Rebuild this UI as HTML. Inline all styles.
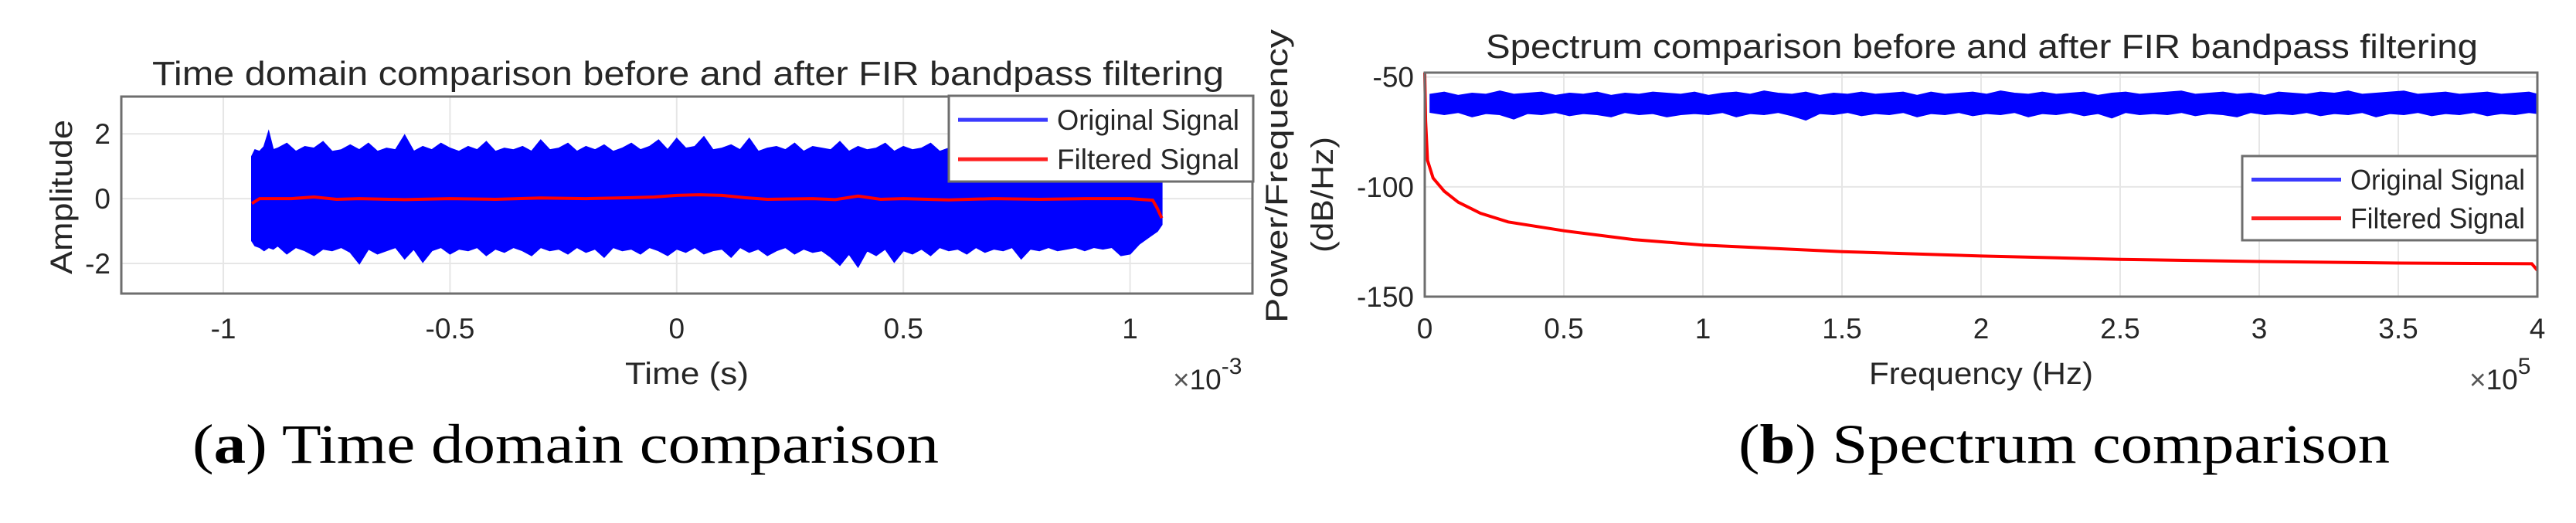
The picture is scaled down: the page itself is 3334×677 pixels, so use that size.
<!DOCTYPE html>
<html><head><meta charset="utf-8">
<style>
html,body{margin:0;padding:0;background:#fff;}
svg{display:block;}
text{font-family:"Liberation Sans",Arial,sans-serif;fill:#262626;}
.cap{font-family:"Liberation Serif",serif;fill:#000;}
</style></head>
<body>
<svg id="fig" width="3334" height="677" viewBox="0 0 3334 677" xmlns="http://www.w3.org/2000/svg">
  <g id="chartA"></g>
  <g id="chartB"></g>
  <text class="cap" x="249" y="599" font-size="72" textLength="966" lengthAdjust="spacingAndGlyphs">(<tspan font-weight="bold">a</tspan>) Time domain comparison</text>
  <text class="cap" x="2250" y="599" font-size="72" textLength="843" lengthAdjust="spacingAndGlyphs">(<tspan font-weight="bold">b</tspan>) Spectrum comparison</text>
</svg>
<script>
// ---------- Chart A data ----------
const timeTicks = [-1, -0.5, 0, 0.5, 1];
const timeTickLabels = ["-1", "-0.5", "0", "0.5", "1"];
const ampTicks = [-2, 0, 2];
const ampTickLabels = ["-2", "0", "2"];
const origTime = [-0.937,-0.93,-0.92,-0.91,-0.9,-0.89,-0.88,-0.86,-0.84,-0.82,-0.8,-0.78,-0.76,-0.74,-0.72,-0.7,-0.68,-0.66,-0.64,-0.62,-0.6,-0.58,-0.56,-0.54,-0.52,-0.5,-0.48,-0.46,-0.44,-0.42,-0.4,-0.38,-0.36,-0.34,-0.32,-0.3,-0.28,-0.26,-0.24,-0.22,-0.2,-0.18,-0.16,-0.14,-0.12,-0.1,-0.08,-0.06,-0.04,-0.02,0,0.02,0.04,0.06,0.08,0.1,0.12,0.14,0.16,0.18,0.2,0.22,0.24,0.26,0.28,0.3,0.32,0.34,0.36,0.38,0.4,0.42,0.44,0.46,0.48,0.5,0.52,0.54,0.56,0.58,0.6,0.62,0.64,0.66,0.68,0.7,0.72,0.74,0.76,0.78,0.8,0.82,0.84,0.86,0.88,0.9,0.92,0.94,0.96,0.98,1.0,1.02,1.04,1.06,1.07];
const origUpper = [1.3,1.5,1.45,1.6,2.05,1.5,1.55,1.7,1.45,1.6,1.55,1.75,1.45,1.5,1.65,1.5,1.7,1.45,1.55,1.5,1.95,1.45,1.6,1.5,1.7,1.55,1.45,1.6,1.5,1.75,1.45,1.55,1.5,1.6,1.45,1.8,1.5,1.55,1.7,1.45,1.6,1.5,1.65,1.45,1.55,1.7,1.5,1.6,1.8,1.5,1.85,1.55,1.6,1.9,1.5,1.55,1.65,1.5,1.85,1.45,1.55,1.6,1.5,1.7,1.45,1.6,1.55,1.5,1.75,1.45,1.6,1.5,1.55,1.7,1.45,1.6,1.5,1.55,1.7,1.45,1.55,1.5,1.6,1.45,1.5,1.6,1.45,1.55,1.5,1.45,1.6,1.5,1.45,1.55,1.4,1.5,1.45,1.4,1.55,1.45,1.4,1.3,1.2,1.0,0.9];
const origLower = [-1.3,-1.45,-1.5,-1.6,-1.5,-1.55,-1.45,-1.7,-1.5,-1.6,-1.75,-1.55,-1.6,-1.5,-1.65,-2.0,-1.55,-1.7,-1.6,-1.5,-1.85,-1.55,-1.95,-1.6,-1.5,-1.7,-1.55,-1.6,-1.5,-1.75,-1.55,-1.65,-1.5,-1.6,-1.75,-1.5,-1.6,-1.55,-1.7,-1.5,-1.65,-1.55,-1.8,-1.5,-1.6,-1.55,-1.7,-1.5,-1.6,-1.75,-1.55,-1.65,-1.5,-1.7,-1.6,-1.55,-1.8,-1.5,-1.65,-1.55,-1.75,-1.6,-1.5,-1.7,-1.55,-1.65,-1.6,-1.8,-2.05,-1.7,-2.1,-1.6,-1.75,-1.55,-1.95,-1.6,-1.7,-1.55,-1.75,-1.5,-1.6,-1.55,-1.7,-1.5,-1.65,-1.55,-1.6,-1.5,-1.85,-1.55,-1.6,-1.5,-1.6,-1.55,-1.5,-1.6,-1.5,-1.55,-1.5,-1.75,-1.7,-1.4,-1.2,-1.0,-0.8];
const filtTime = [-0.937,-0.92,-0.85,-0.8,-0.75,-0.7,-0.6,-0.5,-0.4,-0.3,-0.2,-0.1,-0.05,0,0.05,0.1,0.15,0.2,0.3,0.35,0.4,0.45,0.5,0.6,0.7,0.8,0.9,1.0,1.05,1.06,1.07];
const filtValue = [-0.15,0.0,0.0,0.05,-0.02,0.0,-0.03,0.0,-0.02,0.02,0.0,0.03,0.05,0.1,0.12,0.1,0.03,-0.02,0.0,-0.03,0.08,-0.02,0.0,-0.04,0.0,-0.02,0.0,0.0,-0.05,-0.3,-0.6];

// ---------- Chart B data (x in 1e5 Hz) ----------
const freqTicks = [0,0.5,1,1.5,2,2.5,3,3.5,4];
const freqTickLabels = ["0","0.5","1","1.5","2","2.5","3","3.5","4"];
const dbTicks = [-150,-100,-50];
const dbTickLabels = ["-150","-100","-50"];
const specFreq = [0.02,0.07,0.12,0.17,0.22,0.27,0.32,0.37,0.42,0.47,0.52,0.57,0.62,0.67,0.72,0.77,0.82,0.87,0.92,0.97,1.02,1.07,1.12,1.17,1.22,1.27,1.32,1.37,1.42,1.47,1.52,1.57,1.62,1.67,1.72,1.77,1.82,1.87,1.92,1.97,2.02,2.07,2.12,2.17,2.22,2.27,2.32,2.37,2.42,2.47,2.52,2.57,2.62,2.67,2.72,2.77,2.82,2.87,2.92,2.97,3.02,3.07,3.12,3.17,3.22,3.27,3.32,3.37,3.42,3.47,3.52,3.57,3.62,3.67,3.72,3.77,3.82,3.87,3.92,3.97,4.0];
const specUpper = [-58,-57,-58.5,-57.5,-58,-56.5,-58,-57.5,-57,-58.5,-57.5,-58,-57,-58.5,-57.5,-58,-57,-57.5,-58,-57,-58.5,-57.5,-57,-58,-56.5,-57.5,-58,-57,-58.5,-57.5,-58,-57,-58,-57.5,-57,-58.5,-57,-58,-57.5,-57,-58,-56.5,-57.5,-58,-57,-58,-57.5,-57,-58.5,-57.5,-57,-58,-57.5,-57,-56.5,-58,-57.5,-57,-58,-57.5,-58.5,-57,-57.5,-58,-57,-57.5,-56.5,-58,-57.5,-57,-56.5,-58,-57.5,-57,-58,-57.5,-57,-58,-57.5,-57,-58];
const specLower = [-66,-67,-66,-68,-66.5,-67,-69,-66.5,-67,-66,-67.5,-66.5,-67,-68,-66,-67,-66.5,-68,-67,-66.5,-67,-66,-68,-66.5,-67,-66,-67.5,-69.5,-66.5,-67,-66,-67.5,-66.5,-67,-66,-68,-66.5,-67,-66,-67.5,-66.5,-67,-66,-68,-66.5,-67,-66,-67.5,-66.5,-68.5,-66,-67,-66.5,-67,-66,-67.5,-66.5,-67,-68,-66,-67,-66.5,-67,-66,-67.5,-66.5,-67,-66,-68,-66.5,-67,-66,-67.5,-66.5,-67,-66,-67.5,-66.5,-67,-66,-66.5];
const filtFreq = [0,0.003,0.01,0.03,0.07,0.12,0.2,0.3,0.5,0.75,1.0,1.5,2.0,2.5,3.0,3.5,3.98,4.0];
const filtDb = [-48,-70,-88,-96,-102,-107,-112,-116,-120,-124,-126.5,-129.5,-131.5,-133,-134,-134.7,-135,-138];

const NS='http://www.w3.org/2000/svg';
function mk(tag, attrs, parent){const e=document.createElementNS(NS,tag);for(const k in attrs)e.setAttribute(k,attrs[k]);parent.appendChild(e);return e;}

function drawAxes(g, L, T, R, B, xs, ys, xt, xtl, yt, ytl){
  const bg=mk('rect',{x:L,y:T,width:R-L,height:B-T,fill:'#fff'},g);
  
  
  xt.forEach((v,i)=>{
    const x=xs(v);
    const gl=mk('line',{x1:x,y1:T,x2:x,y2:B,stroke:'#e6e6e6','stroke-width':2},g);
    
    
    const t=mk('text',{x:x,y:438,'font-size':37,'text-anchor':'middle'},g);
    t.textContent=xtl[i];
    
    
  });
  yt.forEach((v,i)=>{
    const y=ys(v);
    const gl=mk('line',{x1:L,y1:y,x2:R,y2:y,stroke:'#e6e6e6','stroke-width':2},g);
    
    
    const t=mk('text',{x:L-14,y:y+13,'font-size':37,'text-anchor':'end'},g);
    t.textContent=ytl[i];
    
    
  });
}
function drawBox(g,L,T,R,B){
  const b=mk('rect',{x:L,y:T,width:R-L,height:B-T,fill:'none',stroke:'#6e6e6e','stroke-width':3},g);
  
  
}
function band(xArr,up,lo,xs,ys){
  let d='M'+xArr.map((v,i)=>xs(v).toFixed(1)+','+ys(up[i]).toFixed(1)).join('L');
  for(let i=xArr.length-1;i>=0;i--) d+='L'+xs(xArr[i]).toFixed(1)+','+ys(lo[i]).toFixed(1);
  return d+'Z';
}
function line(xArr,yArr,xs,ys){return 'M'+xArr.map((v,i)=>xs(v).toFixed(1)+','+ys(yArr[i]).toFixed(1)).join('L');}
function legend(g,x,y,w,h,tl){
  const r=mk('rect',{x:x,y:y,width:w,height:h,fill:'#fff',stroke:'#6e6e6e','stroke-width':3},g);
  
  
  const items=[['Original Signal','#3a3aff',y+h*0.28],['Filtered Signal','#ff2020',y+h*0.74]];
  items.forEach(it=>{
    const l=mk('line',{x1:x+12,y1:it[2],x2:x+128,y2:it[2],stroke:it[1],'stroke-width':5},g);
    
    
    const t=mk('text',{x:x+140,y:it[2]+13,'font-size':37,textLength:tl,lengthAdjust:'spacingAndGlyphs'},g);
    t.textContent=it[0];
    
    
  });
}

// ---- Chart A ----
(function(){
  const g=document.getElementById('chartA');
  const L=157,T=125,R=1621,B=380;
  const xmin=-1.225,xmax=1.27,ymin=-2.93,ymax=3.15;
  const xs=v=>L+(v-xmin)/(xmax-xmin)*(R-L);
  const ys=v=>B-(v-ymin)/(ymax-ymin)*(B-T);
  drawAxes(g,L,T,R,B,xs,ys,timeTicks,timeTickLabels,ampTicks,ampTickLabels);
  const o=mk('path',{d:band(origTime,origUpper,origLower,xs,ys),fill:'#0000ff',stroke:'#0000ff','stroke-width':2},g);
  
  
  const f=mk('path',{d:line(filtTime,filtValue,xs,ys),fill:'none',stroke:'#ff0000','stroke-width':4},g);
  
  
  drawBox(g,L,T,R,B);
  legend(g,1228,124,394,111,236);
  const ti=mk('text',{x:197,y:110,'font-size':44,textLength:1387,lengthAdjust:'spacingAndGlyphs',fill:'#000'},g);
  ti.textContent='Time domain comparison before and after FIR bandpass filtering';
  
  
  const xl=mk('text',{x:889,y:497,'font-size':40,'text-anchor':'middle',textLength:160,lengthAdjust:'spacingAndGlyphs'},g);
  xl.textContent='Time (s)';
  
  
  const yl=mk('text',{x:0,y:0,'font-size':40,'text-anchor':'middle',textLength:200,lengthAdjust:'spacingAndGlyphs',transform:'translate(93,255) rotate(-90)'},g);
  yl.textContent='Amplitude';
  
  
  const ex=mk('text',{x:1518,y:504,'font-size':37},g);
  ex.innerHTML='<tspan fill="#555">×</tspan>10<tspan dy="-20" font-size="30">-3</tspan>';
  
  
})();

// ---- Chart B ----
(function(){
  const g=document.getElementById('chartB');
  const L=1844,T=94,R=3284,B=384;
  const xmin=0,xmax=4,ymin=-150,ymax=-48;
  const xs=v=>L+(v-xmin)/(xmax-xmin)*(R-L);
  const ys=v=>B-(v-ymin)/(ymax-ymin)*(B-T);
  drawAxes(g,L,T,R,B,xs,ys,freqTicks,freqTickLabels,dbTicks,dbTickLabels);
  const o=mk('path',{d:band(specFreq,specUpper,specLower,xs,ys),fill:'#0000ff',stroke:'#0000ff','stroke-width':2},g);
  
  
  const f=mk('path',{d:line(filtFreq,filtDb,xs,ys),fill:'none',stroke:'#ff0000','stroke-width':4},g);
  
  
  drawBox(g,L,T,R,B);
  legend(g,2902,202,382,109,226);
  const ti=mk('text',{x:1923,y:75,'font-size':44,textLength:1284,lengthAdjust:'spacingAndGlyphs',fill:'#000'},g);
  ti.textContent='Spectrum comparison before and after FIR bandpass filtering';
  
  
  const xl=mk('text',{x:2564,y:497,'font-size':40,'text-anchor':'middle',textLength:290,lengthAdjust:'spacingAndGlyphs'},g);
  xl.textContent='Frequency (Hz)';
  
  
  const yl=mk('text',{x:0,y:0,'font-size':40,'text-anchor':'middle',textLength:380,lengthAdjust:'spacingAndGlyphs',transform:'translate(1666,228) rotate(-90)'},g);
  yl.textContent='Power/Frequency';
  
  
  const yl2=mk('text',{x:0,y:0,'font-size':40,'text-anchor':'middle',textLength:150,lengthAdjust:'spacingAndGlyphs',transform:'translate(1725,252) rotate(-90)'},g);
  yl2.textContent='(dB/Hz)';
  
  
  const ex=mk('text',{x:3196,y:504,'font-size':37},g);
  ex.innerHTML='<tspan fill="#555">×</tspan>10<tspan dy="-20" font-size="30">5</tspan>';
  
  
})();
</script>
</body></html>
